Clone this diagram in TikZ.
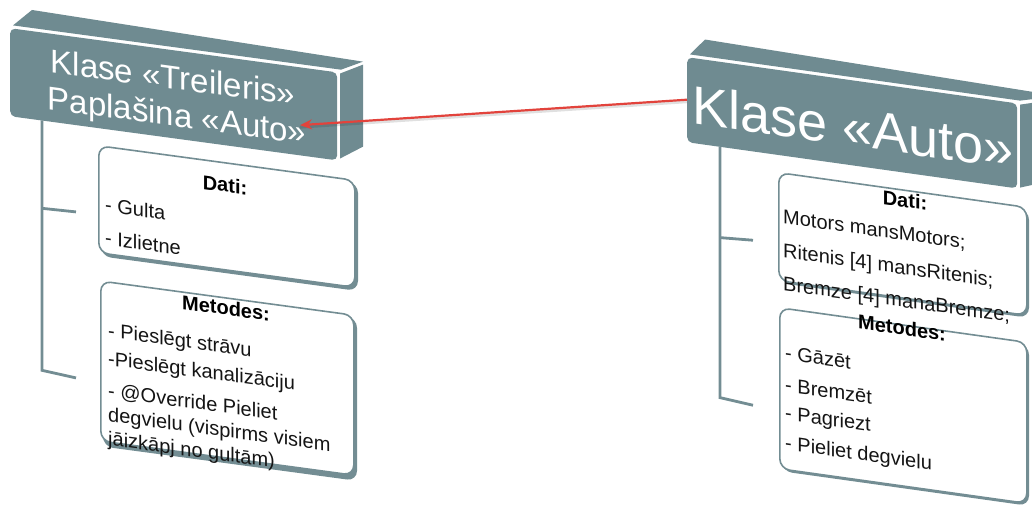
\documentclass[tikz,border=0pt]{standalone}
\usepackage{fontspec}
\setmainfont{Liberation Sans}
\usetikzlibrary{arrows.meta}
\definecolor{headcol}{HTML}{6F8B91}
\definecolor{edgecol}{HTML}{738D93}
\definecolor{linkred}{HTML}{E2433C}
\tikzset{
  headface/.style={fill=headcol, rounded corners=5pt, inner sep=0pt, anchor=north west},
  headtext/.style={text=white, inner sep=0pt, anchor=base},
  boxshade/.style={fill=edgecol, rounded corners=10pt},
  infobox/.style={fill=white, draw=edgecol, line width=1.6pt, rounded corners=10pt, inner sep=0pt, anchor=north west},
  boxtitle/.style={inner sep=0pt, anchor=base, font=\fontsize{20}{23}\selectfont\bfseries},
  boxline/.style={inner sep=0pt, anchor=base west, font=\fontsize{20}{23}\selectfont, text=black!92},
  treeline/.style={draw=edgecol, line width=2.8pt},
  inherits/.style={draw=linkred, line width=2.2pt, -{Stealth[length=12pt,width=10pt]}}
}
\begin{document}
\begin{tikzpicture}[x=1pt,y=-1pt]
\useasboundingbox (0,0) rectangle (1032,508);
\clip (0,0) rectangle (1032,508);

% ---- class Treileris ----
\begin{scope}[shift={(10,28)}, yslant=-0.135, transform shape]
  \fill[headcol] (3,-3) -- (22,-21) -- (353,-14) -- (331,-3) -- cycle;
  \fill[headcol] (330,1) -- (353,-11) -- (353,71) -- (330,86) -- cycle;
  \node[headface, minimum width=327pt, minimum height=88pt] (trlhead) at (0,0) {};
  \node[headtext, font=\fontsize{33}{37}\selectfont] (trlname) at (163,39) {Klase «Treileris»};
  \node[headtext, font=\fontsize{33}{37}\selectfont] (trlbase) at (167,76) {Paplašina «Auto»};
  \coordinate (trltip) at (290,58);

  \coordinate (trlroot) at (32,88);
  \coordinate (trlfork) at (32,176);
  \coordinate (trlcorner) at (32,338);
  \coordinate (trldatiend) at (66,175);
  \coordinate (trlmetend) at (66,341);
  \draw[treeline] (trlroot) -- (trlcorner) -- (trlmetend);
  \draw[treeline] (trlfork) -- (trldatiend);

  \fill[boxshade] (91,108) rectangle (348,216);
  \node[infobox, minimum width=256pt, minimum height=107pt] (trldati) at (88,105) {};
  \node[boxtitle] (trldatihead) at (215,135) {Dati:};
  \node[boxline] (trld1) at (95,171) {- Gulta};
  \node[boxline] (trld2) at (95,204) {- Izlietne};

  \fill[boxshade] (93,243) rectangle (347,406);
  \node[infobox, minimum width=253pt, minimum height=160pt] (trlmet) at (90,240) {};
  \node[boxtitle] (trlmethead) at (216,258) {Metodes:};
  \begin{scope}[every node/.append style={font=\fontsize{20.5}{23}\selectfont}]
    \node[boxline] (trlm1) at (98,296) {- Pieslēgt strāvu};
    \node[boxline] (trlm2) at (98,324) {-Pieslēgt kanalizāciju};
    \node[boxline] (trlm3) at (98,356) {- @Override Pieliet};
    \node[boxline] (trlm3b) at (98,380) {degvielu (vispirms visiem};
    \node[boxline] (trlm3c) at (98,404) {jāizkāpj no gultām)};
  \end{scope}
\end{scope}

% ---- class Auto ----
\begin{scope}[shift={(687,57)}, yslant=-0.14, transform shape]
  \fill[headcol] (3,-3) -- (18,-20) -- (372,-13) -- (333,-3) -- cycle;
  \fill[headcol] (333,1) -- (372,-10) -- (372,70) -- (333,84) -- cycle;
  \node[headface, minimum width=330pt, minimum height=85pt] (autohead) at (0,0) {};
  \node[headtext, font=\fontsize{54}{58}\selectfont] (autoname) at (166,66) {Klase «Auto»};

  \coordinate (autoroot) at (33,85);
  \coordinate (autofork) at (33,176);
  \coordinate (autocorner) at (33,336);
  \coordinate (autodatiend) at (66,174);
  \coordinate (automethend) at (66,339);
  \draw[treeline] (autoroot) -- (autocorner) -- (automethend);
  \draw[treeline] (autofork) -- (autodatiend);

  \fill[boxshade] (94,105) rectangle (342,213);
  \node[infobox, minimum width=248pt, minimum height=108pt] (autodati) at (91,102) {};
  \node[boxtitle] (autodatihead) at (218,120) {Dati:};
  \node[boxline] (autod1) at (96,153) {Motors mansMotors;};
  \node[boxline] (autod2) at (96,187) {Ritenis [4] mansRitenis;};
  \node[boxline] (autod3) at (96,220) {Bremze [4] manaBremze;};

  \fill[boxshade] (95,240) rectangle (342,401);
  \node[infobox, minimum width=247pt, minimum height=161pt] (automet) at (92,237) {};
  \node[boxtitle] (automethead) at (215,248) {Metodes:};
  \node[boxline] (autom1) at (98,289) {- Gāzēt};
  \node[boxline] (autom2) at (98,321) {- Bremzēt};
  \node[boxline] (autom3) at (98,349) {- Pagriezt};
  \node[boxline] (autom4) at (98,379) {- Pieliet degvielu};
\end{scope}

% ---- inheritance link ----
\draw[draw=black, opacity=0.12, line width=3pt] ([yshift=-2pt]autohead.west) -- ([yshift=-2pt]trltip);
\draw[inherits] (autohead.west) -- (trltip);
\end{tikzpicture}
\end{document}
